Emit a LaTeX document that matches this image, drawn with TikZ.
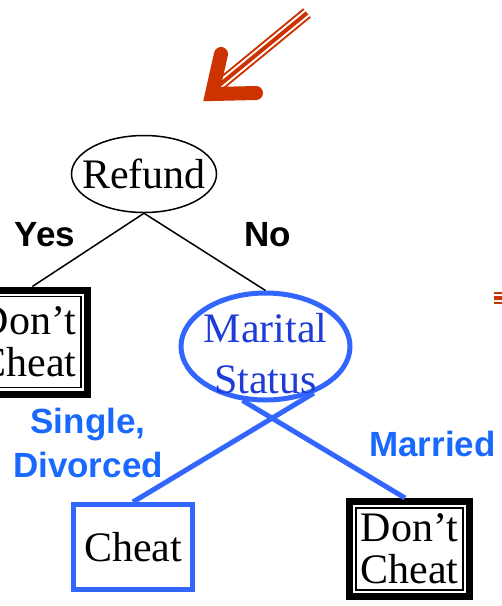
\documentclass[tikz,border=0pt]{standalone}
\usepackage{fontspec}
\setmainfont{Liberation Serif}
\setsansfont{Liberation Sans}
\usetikzlibrary{shapes.geometric}

\definecolor{alertred}{RGB}{204,51,0}
\definecolor{splitblue}{RGB}{51,102,255}
\definecolor{labelblue}{RGB}{25,105,255}
\definecolor{attrblue}{RGB}{30,60,215}

\begin{document}
\begin{tikzpicture}[
        x=1pt, y=-1pt,
        % Node Styles
        splitnode/.style={
            ellipse,
            draw=black,
            line width=1.5pt,
            fill=white,
            align=center,
            inner sep=-15pt,
            font=\fontsize{42}{51}\selectfont
        },
        attrnode/.style={
            splitnode,
            draw=splitblue,
            line width=5pt,
            text=attrblue
        },
        leafbox/.style={
            rectangle,
            draw=black,
            line width=7pt,
            fill=white,
            align=center,
            inner sep=0pt,
            minimum width=120pt,
            minimum height=95pt,
            font=\fontsize{42}{42}\selectfont,
            path picture={
                \draw[line width=1.5pt]
                    ([shift={(6.5pt,-6.5pt)}]path picture bounding box.north west) rectangle
                    ([shift={(-6.5pt,6.5pt)}]path picture bounding box.south east);}
        },
        cheatbox/.style={
            rectangle,
            draw=splitblue,
            line width=5pt,
            fill=white,
            inner sep=0pt,
            minimum width=119pt,
            minimum height=85pt,
            font=\fontsize{42}{44}\selectfont
        },
        branch/.style={
            inner sep=0pt,
            align=center,
            font=\sffamily\bfseries\fontsize{35}{44}\selectfont
        },
        % Connector Styles
        treeedge/.style={draw=black, line width=1.5pt},
        attredge/.style={draw=splitblue, line width=5pt},
        pointershaft/.style={
            draw=white, line width=8pt,
            preaction={draw=alertred, line width=12pt},
            postaction={draw=alertred, line width=4pt}
        },
        pointerhead/.style={draw=alertred, line width=14pt, line cap=round, line join=miter}
    ]
    \useasboundingbox (0,0) rectangle (502,606);

    % --- Pointer (Top) ---
    \draw[pointershaft] (307,13) -- (217,87);
    \draw[pointerhead] (221,54) -- (212,94) -- (256,93);
    \draw[pointershaft] (494,298) -- (512,298);

    % --- Split Nodes ---
    \node[splitnode, minimum width=145pt, minimum height=77pt] (refund) at (144,174) {Refund};
    \node[attrnode, minimum width=169pt, minimum height=107pt] (marital) at (265.5,346.5)
        {\rule{0pt}{44pt}Marital\\Status};

    % --- Leaves ---
    \node[leafbox, minimum height=104pt] (leftleaf) at (27.5,342) {Don’t\\Cheat};
    \node[leafbox] (rightleaf) at (409.5,549) {Don’t\\Cheat};
    \node[cheatbox] (cheat) at (133,547) {Cheat};

    % --- Branch Labels ---
    \node[branch, anchor=base] (yes) at (45,246) {Yes};
    \node[branch, anchor=base] (no) at (267.5,246) {No};
    \node[branch, text=labelblue] (single) at (88,443) {Single,\\Divorced};
    \node[branch, text=labelblue, anchor=base] (married) at (432.5,456) {Married};

    % --- Paths & Connections ---
    \draw[treeedge] (refund.south) -- (leftleaf.85);
    \draw[treeedge] (refund.south) -- (marital.north);
    \draw[attredge] (marital.-44) -- (cheat.north);
    \draw[attredge] (marital.-113) -- (rightleaf.95);

\end{tikzpicture}
\end{document}
